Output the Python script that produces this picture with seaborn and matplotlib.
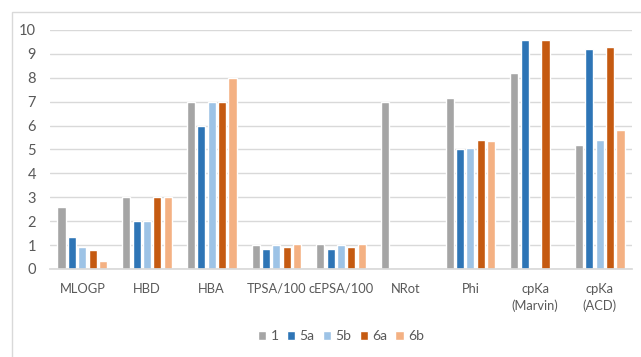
import numpy as np
import pandas as pd
import matplotlib
matplotlib.use('Agg')
import matplotlib.pyplot as plt
import seaborn as sns
from matplotlib.patches import Rectangle

categories = ['MLOGP', 'HBD', 'HBA', 'TPSA/100', 'cEPSA/100', 'NRot', 'Phi',
              'cpKa\n(Marvin)', 'cpKa\n(ACD)']
series = ['1', '5a', '5b', '6a', '6b']
vals_1 = [2.6, 3, 7, 1.0, 1.05, 7, 7.15, 8.2, 5.2]
vals_5a = [1.35, 2, 6, 0.85, 0.85, np.nan, 5.0, 9.6, 9.2]
vals_5b = [0.9, 2, 7, 1.0, 1.0, np.nan, 5.05, np.nan, 5.4]
vals_6a = [0.8, 3, 7, 0.9, 0.9, np.nan, 5.4, 9.6, 9.3]
vals_6b = [0.35, 3, 8, 1.05, 1.05, np.nan, 5.35, np.nan, 5.8]
colors = ['#A5A5A5', '#2E75B6', '#9DC3E6', '#C55A11', '#F4B183']

# long-form table for seaborn
frames = []
for name, v in zip(series, [vals_1, vals_5a, vals_5b, vals_6a, vals_6b]):
    frames.append(pd.DataFrame({'cat': categories, 'series': name, 'value': v}))
df = pd.concat(frames, ignore_index=True)

sns.set_theme(style='white')
plt.rcParams['font.family'] = ['Lato', 'DejaVu Sans']

fig = plt.figure(figsize=(6.41, 3.57), dpi=100)
ax = fig.add_axes([0.078, 0.2465, 0.908, 0.6695])

sns.barplot(data=df, x='cat', y='value', hue='series', order=categories,
            hue_order=series, palette=colors, width=0.8, gap=0.2,
            saturation=1, ax=ax, errorbar=None)

ax.set_ylim(0, 10)
ax.set_yticks(range(0, 11))
ax.yaxis.grid(True, color='#D9D9D9', linewidth=1)
ax.set_axisbelow(True)
for s in ['top', 'right', 'left']:
    ax.spines[s].set_visible(False)
ax.spines['bottom'].set_color('#D9D9D9')
ax.set_xlabel('')
ax.set_ylabel('')
ax.tick_params(axis='both', length=0, labelcolor='#595959')
ax.tick_params(axis='y', pad=10, labelsize=10.5)
ax.tick_params(axis='x', pad=10, labelsize=9.3)
for lab in ax.get_xticklabels():
    lab.set_linespacing(1.45)
ax.set_xlim(-0.5, len(categories) - 0.5)

ax.legend(loc='upper center', bbox_to_anchor=(0.5, -0.205), ncol=5, frameon=False,
          fontsize=10, handlelength=0.6, handleheight=0.6, handletextpad=0.3,
          columnspacing=0.6, labelcolor='#595959')

# chart-area border
fig.patches.append(Rectangle((12 / 641, -0.01), 1.0, 1 - 12 / 357 + 0.01,
                             transform=fig.transFigure, fill=False,
                             edgecolor='#D9D9D9', linewidth=1))

fig.savefig('out.png', dpi=100)
